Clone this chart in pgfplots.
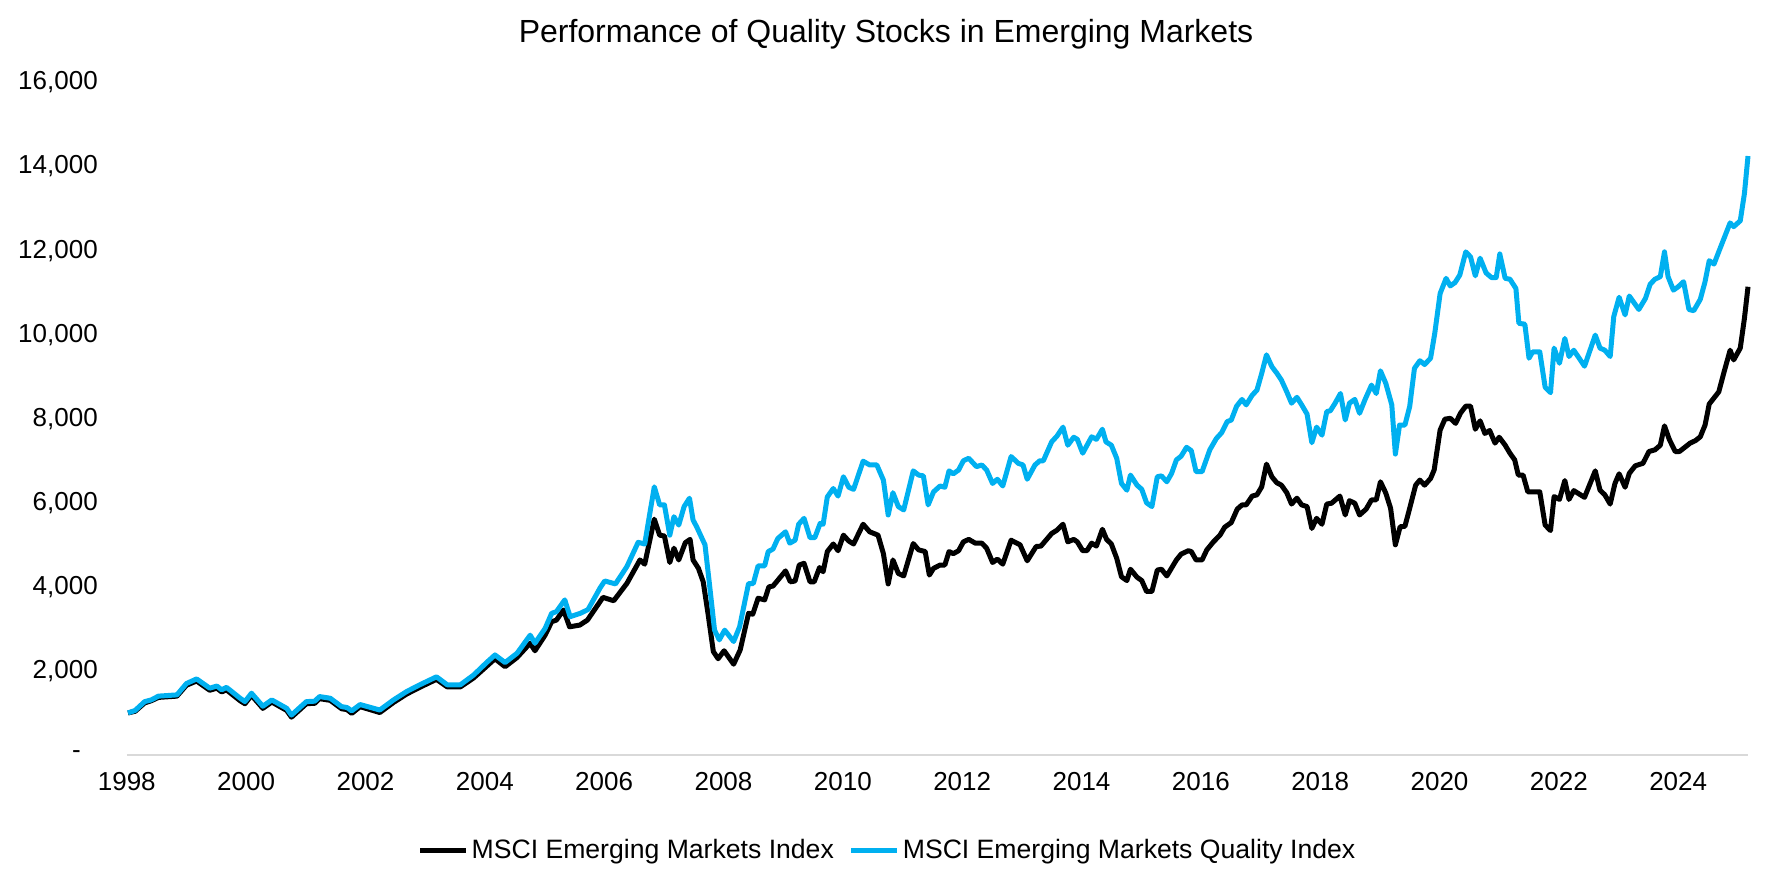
\documentclass[border=0pt]{standalone}
\usepackage{fontspec}
\setmainfont{Liberation Sans}
\usepackage{pgfplots}
\pgfplotsset{compat=1.18}

\definecolor{qblue}{RGB}{0,176,240}
\definecolor{axisgray}{RGB}{217,217,217}

\begin{document}
\begin{tikzpicture}
\path[use as bounding box] (0pt,0pt) rectangle (886pt,443pt);
\node[font=\fontsize{16}{19}\selectfont] at (443pt,426pt) {Performance of Quality Stocks in Emerging Markets};
\begin{axis}[
  at={(63.4pt,65.5pt)}, anchor=south west,
  scale only axis,
  width=810.6pt, height=336.25pt,
  xmin=1998, xmax=2025.17,
  ymin=0, ymax=16000,
  clip=false,
  scaled y ticks=false,
  axis x line*=bottom,
  axis y line*=left,
  x axis line style={draw=axisgray, line width=1pt},
  y axis line style={draw=none},
  major tick length=0pt,
  xtick={1998,2000,2002,2004,2006,2008,2010,2012,2014,2016,2018,2020,2022,2024},
  xticklabels={1998,2000,2002,2004,2006,2008,2010,2012,2014,2016,2018,2020,2022,2024},
  ytick={0,2000,4000,6000,8000,10000,12000,14000,16000},
  yticklabels={{-\rule{8.5pt}{0pt}},{2,000},{4,000},{6,000},{8,000},{10,000},{12,000},{14,000},{16,000}},
  ticklabel style={font=\fontsize{13}{15.6}\selectfont},
  xticklabel style={yshift=-5pt},
  yticklabel style={xshift=-11pt},
  legend columns=2,
  legend style={at={(0.4695,-0.1413)}, anchor=center, draw=none,
    font=\fontsize{13.3}{16}\selectfont,
    nodes={inner xsep=1.5pt},
    /tikz/every even column/.append style={column sep=6pt}},
  legend image code/.code={\draw[#1] (0pt,0pt) -- (23pt,0pt);},
  every axis plot/.append style={line width=2.5pt, line join=round, no markers},
]
% MSCI Emerging Markets Index
\addplot[black] coordinates {
(1998.02,1000) (1998.14,1040) (1998.30,1240) (1998.41,1290) (1998.53,1370) (1998.84,1400)
(1999.00,1660) (1999.17,1760) (1999.39,1540) (1999.51,1590) (1999.59,1500) (1999.67,1550)
(1999.90,1290) (1999.98,1220) (2000.09,1420) (2000.28,1110) (2000.43,1260) (2000.68,1060)
(2000.76,900) (2001.01,1220) (2001.15,1230) (2001.23,1340) (2001.41,1300) (2001.60,1100)
(2001.69,1080) (2001.77,990) (2001.91,1150) (2002.24,1010) (2002.47,1250) (2002.69,1450)
(2002.91,1610) (2003.19,1800) (2003.37,1620) (2003.59,1620) (2003.81,1830) (2004.03,2110)
(2004.17,2290) (2004.34,2100) (2004.54,2320) (2004.76,2660) (2004.84,2480) (2005.01,2850)
(2005.12,3170) (2005.20,3210) (2005.32,3450) (2005.42,3050) (2005.59,3090) (2005.72,3210)
(2005.98,3750) (2006.16,3670) (2006.38,4080) (2006.60,4640) (2006.68,4540) (2006.84,5610)
(2006.93,5230) (2007.01,5210) (2007.10,4580) (2007.17,4920) (2007.25,4640) (2007.36,5050)
(2007.44,5130) (2007.49,4640) (2007.58,4440) (2007.66,4120) (2007.74,3370) (2007.83,2460)
(2007.91,2290) (2008.01,2480) (2008.17,2160) (2008.28,2500) (2008.42,3370) (2008.49,3350)
(2008.58,3730) (2008.69,3690) (2008.76,4000) (2008.83,4020) (2009.04,4380) (2009.12,4120)
(2009.20,4140) (2009.27,4520) (2009.35,4560) (2009.45,4120) (2009.52,4120) (2009.61,4460)
(2009.67,4360) (2009.74,4840) (2009.84,5020) (2009.92,4860) (2010.01,5230) (2010.10,5090)
(2010.18,5020) (2010.34,5490) (2010.45,5310) (2010.59,5230) (2010.68,4790) (2010.76,4070)
(2010.84,4640) (2010.93,4320) (2011.02,4260) (2011.18,5030) (2011.27,4880) (2011.38,4840)
(2011.45,4280) (2011.52,4440) (2011.63,4520) (2011.71,4520) (2011.78,4840) (2011.85,4790)
(2011.94,4860) (2012.02,5070) (2012.11,5130) (2012.22,5040) (2012.33,5040) (2012.41,4920)
(2012.51,4580) (2012.59,4660) (2012.68,4540) (2012.82,5110) (2012.97,5000) (2013.09,4620)
(2013.24,4960) (2013.32,4970) (2013.50,5270) (2013.59,5350) (2013.69,5490) (2013.77,5070)
(2013.87,5130) (2013.93,5070) (2014.02,4860) (2014.09,4860) (2014.17,5040) (2014.25,4970)
(2014.35,5370) (2014.42,5130) (2014.50,5020) (2014.59,4680) (2014.67,4240) (2014.76,4150)
(2014.82,4420) (2014.93,4230) (2015.01,4150) (2015.09,3890) (2015.18,3890) (2015.27,4400)
(2015.34,4420) (2015.43,4260) (2015.59,4640) (2015.67,4780) (2015.79,4860) (2015.84,4840)
(2015.92,4640) (2016.02,4640) (2016.10,4880) (2016.21,5070) (2016.32,5230) (2016.40,5420)
(2016.51,5530) (2016.61,5850) (2016.69,5950) (2016.76,5950) (2016.86,6160) (2016.94,6190)
(2017.02,6380) (2017.10,6920) (2017.19,6620) (2017.27,6480) (2017.35,6420) (2017.44,6240)
(2017.52,5970) (2017.61,6110) (2017.69,5950) (2017.78,5910) (2017.86,5390) (2017.94,5630)
(2018.03,5490) (2018.11,5970) (2018.19,5990) (2018.33,6160) (2018.42,5710) (2018.49,6050)
(2018.58,5990) (2018.66,5710) (2018.77,5850) (2018.86,6070) (2018.94,6070) (2019.01,6500)
(2019.10,6230) (2019.18,5870) (2019.26,5000) (2019.34,5430) (2019.42,5440) (2019.50,5870)
(2019.60,6420) (2019.67,6540) (2019.75,6420) (2019.85,6580) (2019.91,6780) (2020.01,7730)
(2020.09,7990) (2020.18,8010) (2020.27,7890) (2020.35,8130) (2020.44,8300) (2020.52,8300)
(2020.60,7750) (2020.68,7950) (2020.76,7650) (2020.84,7720) (2020.93,7420) (2021.00,7560)
(2021.10,7370) (2021.18,7180) (2021.26,7020) (2021.32,6660) (2021.40,6660) (2021.48,6260)
(2021.68,6260) (2021.77,5470) (2021.86,5340) (2021.92,6150) (2022.01,6080) (2022.10,6530)
(2022.17,6080) (2022.25,6290) (2022.43,6130) (2022.61,6760) (2022.69,6300) (2022.77,6190)
(2022.86,5970) (2022.94,6460) (2023.01,6690) (2023.11,6370) (2023.18,6700) (2023.28,6880)
(2023.41,6940) (2023.51,7220) (2023.61,7260) (2023.70,7370) (2023.77,7830) (2023.85,7510)
(2023.95,7220) (2024.02,7220) (2024.12,7330) (2024.20,7420) (2024.29,7480) (2024.37,7570)
(2024.45,7850) (2024.52,8350) (2024.68,8640) (2024.77,9120) (2024.87,9630) (2024.93,9400)
(2025.04,9680) (2025.11,10390) (2025.17,11140)
};
\addlegendentry{MSCI Emerging Markets Index}
% MSCI Emerging Markets Quality Index
\addplot[qblue] coordinates {
(1998.02,1000) (1998.14,1060) (1998.30,1270) (1998.41,1310) (1998.53,1400) (1998.84,1430)
(1999.00,1700) (1999.17,1810) (1999.39,1590) (1999.51,1640) (1999.59,1550) (1999.67,1610)
(1999.90,1350) (1999.98,1270) (2000.09,1470) (2000.28,1160) (2000.43,1310) (2000.68,1110)
(2000.76,950) (2001.01,1270) (2001.15,1280) (2001.23,1390) (2001.41,1350) (2001.60,1150)
(2001.69,1130) (2001.77,1050) (2001.91,1200) (2002.24,1070) (2002.47,1310) (2002.69,1510)
(2002.91,1670) (2003.19,1860) (2003.37,1670) (2003.59,1670) (2003.81,1900) (2004.03,2200)
(2004.17,2380) (2004.34,2200) (2004.54,2420) (2004.76,2850) (2004.84,2660) (2005.01,3010)
(2005.12,3370) (2005.20,3410) (2005.34,3690) (2005.43,3290) (2005.60,3370) (2005.73,3460)
(2005.93,3970) (2006.01,4140) (2006.19,4070) (2006.38,4480) (2006.57,5060) (2006.68,5020)
(2006.84,6380) (2006.93,5950) (2007.01,5950) (2007.10,5230) (2007.17,5670) (2007.25,5470)
(2007.34,5910) (2007.43,6110) (2007.49,5590) (2007.55,5430) (2007.69,5000) (2007.77,4000)
(2007.85,2970) (2007.93,2740) (2008.02,2970) (2008.17,2700) (2008.27,3050) (2008.42,4080)
(2008.50,4080) (2008.58,4500) (2008.69,4500) (2008.75,4840) (2008.83,4900) (2008.91,5150)
(2009.04,5310) (2009.11,5040) (2009.20,5110) (2009.26,5490) (2009.35,5630) (2009.45,5170)
(2009.53,5170) (2009.62,5510) (2009.67,5490) (2009.74,6140) (2009.84,6340) (2009.92,6160)
(2010.01,6620) (2010.10,6370) (2010.18,6320) (2010.34,6990) (2010.45,6900) (2010.57,6900)
(2010.68,6540) (2010.76,5710) (2010.84,6240) (2010.93,5910) (2011.02,5830) (2011.18,6760)
(2011.27,6660) (2011.35,6640) (2011.43,5950) (2011.52,6260) (2011.63,6400) (2011.71,6370)
(2011.78,6760) (2011.85,6690) (2011.94,6780) (2012.02,7000) (2012.11,7060) (2012.24,6860)
(2012.33,6900) (2012.41,6780) (2012.51,6460) (2012.59,6560) (2012.68,6400) (2012.82,7100)
(2012.94,6940) (2013.02,6900) (2013.09,6560) (2013.22,6900) (2013.30,7000) (2013.36,7000)
(2013.50,7450) (2013.59,7590) (2013.69,7800) (2013.77,7370) (2013.87,7560) (2013.93,7510)
(2014.02,7180) (2014.17,7570) (2014.25,7510) (2014.35,7750) (2014.41,7450) (2014.50,7370)
(2014.59,7060) (2014.67,6460) (2014.76,6300) (2014.82,6660) (2014.93,6420) (2015.01,6320)
(2015.09,6000) (2015.18,5910) (2015.27,6620) (2015.34,6640) (2015.43,6500) (2015.51,6700)
(2015.59,7020) (2015.67,7110) (2015.76,7320) (2015.84,7240) (2015.92,6740) (2016.02,6740)
(2016.15,7260) (2016.26,7530) (2016.35,7670) (2016.44,7930) (2016.51,7970) (2016.60,8300)
(2016.69,8460) (2016.76,8330) (2016.86,8560) (2016.94,8680) (2017.02,9080) (2017.10,9520)
(2017.19,9240) (2017.27,9090) (2017.35,8920) (2017.44,8640) (2017.52,8370) (2017.61,8510)
(2017.69,8330) (2017.78,8110) (2017.86,7430) (2017.94,7800) (2018.03,7610) (2018.11,8170)
(2018.17,8190) (2018.25,8370) (2018.34,8600) (2018.42,7970) (2018.49,8370) (2018.58,8460)
(2018.66,8130) (2018.75,8450) (2018.86,8800) (2018.94,8600) (2019.01,9140) (2019.10,8840)
(2019.20,8330) (2019.26,7160) (2019.33,7850) (2019.42,7850) (2019.50,8290) (2019.58,9200)
(2019.67,9380) (2019.75,9290) (2019.85,9440) (2019.92,10030) (2020.01,10980) (2020.11,11340)
(2020.18,11160) (2020.26,11240) (2020.34,11420) (2020.44,11970) (2020.52,11850) (2020.60,11400)
(2020.68,11820) (2020.78,11470) (2020.87,11360) (2020.95,11360) (2021.01,11920) (2021.10,11340)
(2021.18,11320) (2021.28,11100) (2021.33,10270) (2021.43,10250) (2021.50,9440) (2021.56,9590)
(2021.68,9590) (2021.77,8750) (2021.86,8620) (2021.92,9680) (2022.01,9320) (2022.10,9910)
(2022.17,9480) (2022.25,9630) (2022.43,9250) (2022.61,9990) (2022.69,9680) (2022.77,9630)
(2022.86,9480) (2022.92,10430) (2023.01,10890) (2023.11,10470) (2023.18,10920) (2023.34,10600)
(2023.45,10860) (2023.53,11200) (2023.61,11320) (2023.70,11380) (2023.77,11970) (2023.83,11380)
(2023.92,11060) (2024.00,11140) (2024.09,11260) (2024.18,10600) (2024.26,10570) (2024.37,10840)
(2024.45,11260) (2024.52,11760) (2024.60,11680) (2024.69,12010) (2024.87,12660) (2024.93,12570)
(2025.04,12710) (2025.11,13360) (2025.17,14250)
};
\addlegendentry{MSCI Emerging Markets Quality Index}
\end{axis}
\end{tikzpicture}
\end{document}
